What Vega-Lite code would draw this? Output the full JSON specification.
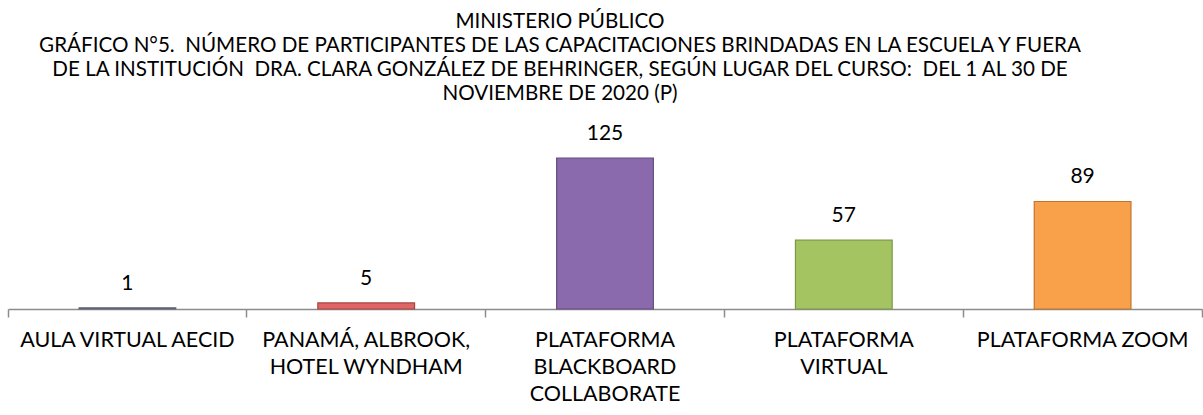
{
  "$schema": "https://vega.github.io/schema/vega-lite/v6.json",
  "autosize": "none",
  "width": 1194,
  "height": 151,
  "padding": {"left": 8, "top": 158, "right": 1, "bottom": 106},
  "background": "white",
  "title": {
    "text": ["MINISTERIO PÚBLICO", "GRÁFICO N°5.\u00a0 NÚMERO DE PARTICIPANTES DE LAS CAPACITACIONES BRINDADAS EN LA ESCUELA Y FUERA", "DE LA INSTITUCIÓN\u00a0 DRA. CLARA GONZÁLEZ DE BEHRINGER, SEGÚN LUGAR DEL CURSO:\u00a0 DEL 1 AL 30 DE", "NOVIEMBRE DE 2020 (P)"],
    "font": "Lato",
    "fontSize": 20.6,
    "fontWeight": "normal",
    "color": "#000000",
    "lineHeight": 24,
    "anchor": "middle",
    "dx": -45,
    "offset": 18
  },
  "config": {"view": {"stroke": null}, "font": "Lato"},
  "data": {
    "values": [
      {"lugar": "AULA VIRTUAL AECID", "n": 1},
      {"lugar": "PANAMÁ, ALBROOK, HOTEL WYNDHAM", "n": 5},
      {"lugar": "PLATAFORMA BLACKBOARD COLLABORATE", "n": 125},
      {"lugar": "PLATAFORMA VIRTUAL", "n": 57},
      {"lugar": "PLATAFORMA ZOOM", "n": 89}
    ]
  },
  "encoding": {
    "x": {
      "field": "lugar",
      "type": "nominal",
      "sort": null,
      "scale": {"paddingInner": 0, "paddingOuter": 0},
      "axis": {
        "title": null,
        "labelAngle": 0,
        "labelFont": "Lato",
        "labelFontSize": 21.5,
        "labelColor": "#000000",
        "labelLineHeight": 27,
        "labelPadding": 12,
        "labelExpr": "datum.value == 'PANAMÁ, ALBROOK, HOTEL WYNDHAM' ? ['PANAMÁ, ALBROOK,', 'HOTEL WYNDHAM'] : datum.value == 'PLATAFORMA BLACKBOARD COLLABORATE' ? ['PLATAFORMA', 'BLACKBOARD', 'COLLABORATE'] : datum.value == 'PLATAFORMA VIRTUAL' ? ['PLATAFORMA', 'VIRTUAL'] : datum.value",
        "bandPosition": 1,
        "tickExtra": true,
        "tickSize": 8,
        "tickColor": "#8c8c8c",
        "tickWidth": 1.5,
        "domainColor": "#8c8c8c",
        "domainWidth": 1.5,
        "labelBaseline": "top",
        "labelLimit": 0
      }
    },
    "y": {
      "field": "n",
      "type": "quantitative",
      "scale": {"domain": [0, 125]},
      "axis": null
    }
  },
  "layer": [
    {
      "mark": {"type": "bar", "width": {"band": 0.405}, "strokeWidth": 1.2},
      "encoding": {
        "color": {
          "field": "lugar",
          "type": "nominal",
          "sort": null,
          "legend": null,
          "scale": {"range": ["#7b8595", "#e06666", "#8a6aac", "#a4c462", "#f9a04b"]}
        },
        "stroke": {
          "field": "lugar",
          "type": "nominal",
          "sort": null,
          "legend": null,
          "scale": {"range": ["#5f6775", "#a8443f", "#644c80", "#7c9848", "#c07430"]}
        }
      }
    },
    {
      "mark": {"type": "text", "font": "Lato", "fontSize": 21, "color": "#000000", "baseline": "bottom", "dy": -14},
      "encoding": {"text": {"field": "n", "type": "quantitative"}}
    }
  ]
}
